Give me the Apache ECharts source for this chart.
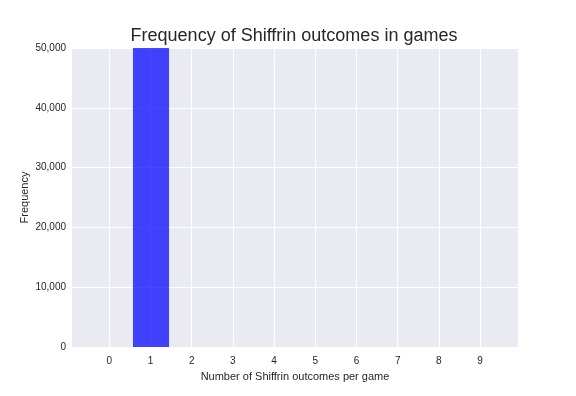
<!DOCTYPE html>
<html><head><meta charset="utf-8">
<script src="https://cdn.jsdelivr.net/npm/echarts@6/dist/echarts.min.js"></script>
<style>html,body{margin:0;padding:0;background:#fff}#c{width:576px;height:396px}</style>
</head><body><div id="c"></div>
<script>
const xTicks = [0,1,2,3,4,5,6,7,8,9];
const yTicks = [0,10000,20000,30000,40000,50000];
const binLeft = [0.575];
const binRight = [1.45];
const frequency = [100000];

const chart = echarts.init(document.getElementById('c'), null, {renderer:'canvas'});
const font = 'Liberation Sans, Arial, sans-serif';
chart.setOption({
  animation:false,
  title:{text:'Frequency of Shiffrin outcomes in games', left:289, top:22, textAlign:'center',
    textStyle:{fontFamily:font, fontSize:18, fontWeight:'normal', color:'#262626'}},
  grid:{left:72, right:58, top:48, bottom:49, show:true, backgroundColor:'#EAEAF2', borderWidth:0},
  xAxis:{type:'value', min:-0.905, max:9.92,
    name:'Number of Shiffrin outcomes per game', nameLocation:'middle', nameGap:24,
    nameTextStyle:{fontFamily:font, fontSize:11, color:'#262626'},
    axisLine:{show:false}, axisTick:{show:false, customValues:xTicks},
    axisLabel:{customValues:xTicks, fontFamily:font, fontSize:10, color:'#262626', margin:9},
    splitLine:{show:true, lineStyle:{color:'#fff', width:1}}},
  yAxis:{type:'value', min:0, max:50000, interval:10000,
    name:'Frequency', nameLocation:'middle', nameGap:42, nameMoveOverlap:false,
    nameTextStyle:{fontFamily:font, fontSize:11, color:'#262626'},
    axisLine:{show:false}, axisTick:{show:false},
    axisLabel:{fontFamily:font, fontSize:10, color:'#262626', margin:6,
      formatter:v=>v.toLocaleString('en-US')},
    splitLine:{show:true, lineStyle:{color:'#fff', width:1}}},
  series:[{type:'custom', clip:true,
    data: frequency.map((f,i)=>[binLeft[i], binRight[i], f]),
    encode:{x:[0,1], y:2},
    renderItem:(params, api)=>{
      const p0 = api.coord([api.value(0), 0]);
      const p1 = api.coord([api.value(1), api.value(2)]);
      const cs = params.coordSys;
      const top = Math.max(p1[1], cs.y);
      return {type:'rect', shape:{x:p0[0], y:top, width:p1[0]-p0[0], height:p0[1]-top},
        style:{fill:'rgba(0,0,255,0.72)'}};
    }}]
});
</script></body></html>
